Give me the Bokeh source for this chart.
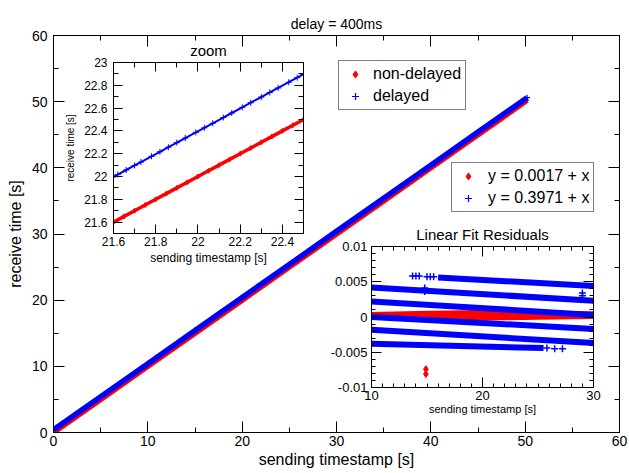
from bokeh.plotting import figure
from bokeh.models import (Range1d, LinearAxis, FixedTicker, CustomJSTickFormatter,
                          Legend, LegendItem)
from bokeh.layouts import column
from bokeh.embed import file_html
from bokeh.resources import INLINE

FONT = "Liberation Sans"
RED = "#ff0000"
BLUE = "#0000ff"

# ---------------- main plot data ----------------
send_main = [0, 5, 10, 15, 20, 25, 30, 35, 40, 45, 50.2]
recv_nondelayed = [0.0, 5.0, 10.0, 15.0, 20.0, 25.0, 30.0, 35.0, 40.0, 45.0, 50.2]
recv_delayed = [0.4, 5.4, 10.4, 15.4, 20.4, 25.4, 30.4, 35.4, 40.4, 45.4, 50.6]
main_ticks = [0, 10, 20, 30, 40, 50, 60]
main_minor = [5, 15, 25, 35, 45, 55]
fit_labels = ["y = 0.0017 + x", "y = 0.3971 + x"]
series_labels = ["non-delayed", "delayed"]

# ---------------- zoom inset data ----------------
zoom_send_red = [21.60, 21.65, 21.70, 21.75, 21.80, 21.85, 21.90, 21.95, 22.00, 22.05,
                 22.10, 22.15, 22.20, 22.25, 22.30, 22.35, 22.40, 22.45, 22.50]
zoom_recv_red = [21.60, 21.65, 21.70, 21.75, 21.80, 21.85, 21.90, 21.95, 22.00, 22.05,
                 22.10, 22.15, 22.20, 22.25, 22.30, 22.35, 22.40, 22.45, 22.50]
zoom_send_blue = [21.60, 21.62, 21.66, 21.70, 21.73, 21.78, 21.82, 21.86, 21.90, 21.94,
                  21.99, 22.03, 22.07, 22.12, 22.16, 22.21, 22.25, 22.30, 22.34, 22.38,
                  22.43, 22.47, 22.50]
zoom_recv_blue = [21.997, 22.017, 22.057, 22.097, 22.127, 22.177, 22.217, 22.257, 22.297,
                  22.337, 22.387, 22.427, 22.467, 22.517, 22.557, 22.607, 22.647, 22.697,
                  22.737, 22.777, 22.827, 22.867, 22.897]
zoom_x_ticks = [21.6, 21.8, 22.0, 22.2, 22.4]
zoom_x_minor = [21.7, 21.9, 22.1, 22.3, 22.5]
zoom_y_ticks = [21.6, 21.8, 22.0, 22.2, 22.4, 22.6, 22.8, 23.0]
zoom_y_minor = [21.5, 21.7, 21.9, 22.1, 22.3, 22.5, 22.7, 22.9]

# ---------------- residual inset data ----------------
band_x0 = [16.0, 10.0, 10.0, 10.0, 10.0, 10.0]
band_y0 = [0.0056, 0.0042, 0.0022, 0.0000, -0.0018, -0.0038]
band_x1 = [30.0, 30.0, 30.0, 30.0, 30.0, 25.5]
band_y1 = [0.0044, 0.0023, 0.0003, -0.0017, -0.0037, -0.0044]
sparse_x = [13.7, 14.0, 14.3, 15.0, 15.3, 15.6, 25.8, 26.5, 27.2, 14.8, 14.8, 29.0, 29.0]
sparse_y = [0.0058, 0.0058, 0.0058, 0.0057, 0.0057, 0.0057, -0.0044, -0.0045, -0.0045,
            0.0036, 0.0041, 0.0034, 0.0030]
red_band_x = [10, 15, 20, 25, 30]
red_band_hi = [0.0007, 0.0009, 0.0010, 0.0009, 0.0008]
red_band_lo = [0.0001, -0.0003, -0.0005, -0.0004, -0.0003]
red_out_x = [14.9, 14.9]
red_out_y = [-0.0074, -0.0081]
res_x_ticks = [10, 20, 30]
res_x_minor = [11, 12, 13, 14, 15, 16, 17, 18, 19, 21, 22, 23, 24, 25, 26, 27, 28, 29]
res_y_ticks = [-0.01, -0.005, 0.0, 0.005, 0.01]
res_y_minor = [-0.009, -0.008, -0.007, -0.006, -0.004, -0.003, -0.002, -0.001,
               0.001, 0.002, 0.003, 0.004, 0.006, 0.007, 0.008, 0.009]

fmt_code = "return String(Number(tick.toFixed(4)));"


def style_axis(ax, ticker, tick_size, label_size, maj, mnr, standoff, label_standoff):
    ax.ticker = ticker
    ax.formatter = CustomJSTickFormatter(code=fmt_code)
    ax.major_label_text_font = FONT
    ax.major_label_text_font_size = tick_size
    ax.major_label_text_color = "black"
    ax.axis_label_text_font = FONT
    ax.axis_label_text_font_size = label_size
    ax.axis_label_text_font_style = "normal"
    ax.axis_label_text_color = "black"
    ax.major_tick_in = maj
    ax.major_tick_out = 0
    ax.minor_tick_in = mnr
    ax.minor_tick_out = 0
    ax.major_label_standoff = standoff
    ax.axis_label_standoff = label_standoff
    ax.axis_line_color = "black"
    ax.major_tick_line_color = "black"
    ax.minor_tick_line_color = "black"


def mirror_axes(fig, xt, yt, maj, mnr):
    for loc, t in (("above", xt), ("right", yt)):
        ax = LinearAxis(ticker=t, major_label_text_font_size="0px", major_label_standoff=0,
                        major_label_text_color=None, axis_label_standoff=0,
                        major_tick_in=maj, major_tick_out=0, minor_tick_in=mnr,
                        minor_tick_out=0, axis_line_color="black",
                        major_tick_line_color="black", minor_tick_line_color="black")
        fig.add_layout(ax, loc)


def style_fig(fig, title_size, standoff):
    fig.xgrid.visible = False
    fig.ygrid.visible = False
    fig.outline_line_color = "black"
    fig.title.text_font = FONT
    fig.title.text_font_size = title_size
    fig.title.text_font_style = "normal"
    fig.title.align = "center"
    fig.title.vertical_align = "top"
    fig.title.standoff = standoff
    fig.title.text_color = "black"


# ================= main figure =================
p = figure(width=629, height=473, x_range=Range1d(0, 60), y_range=Range1d(0, 60),
           output_backend="svg", toolbar_location=None, title="delay = 400ms",
           min_border_left=53, min_border_right=8, min_border_top=35, min_border_bottom=41,
           background_fill_color="white", border_fill_color="white")
style_fig(p, "14px", 4)
mt_x = FixedTicker(ticks=main_ticks, minor_ticks=main_minor)
mt_y = FixedTicker(ticks=main_ticks, minor_ticks=main_minor)
style_axis(p.xaxis[0], mt_x, "14px", "16px", 11, 5, 3, 2)
style_axis(p.yaxis[0], mt_y, "14px", "16px", 11, 5, 6, 5)
p.xaxis.axis_label = "sending timestamp [s]"
p.yaxis.axis_label = "receive time [s]"
mirror_axes(p, mt_x, mt_y, 11, 5)

p.line(send_main, recv_nondelayed, line_width=5.5, color=RED)
r_red = p.scatter(send_main, recv_nondelayed, marker="diamond", size=4, color=RED)
p.line(send_main, recv_delayed, line_width=5.5, color=BLUE)
r_blue = p.scatter(send_main, recv_delayed, marker="cross", size=6, color=BLUE, line_width=1.2)

leg_common = dict(margin=0, padding=4, spacing=4, label_height=18, glyph_height=18,
                  glyph_width=24, label_text_font=FONT, label_text_font_size="16px",
                  label_text_color="black", border_line_color="black", border_line_width=1,
                  background_fill_color="white", background_fill_alpha=1.0)
leg1 = Legend(items=[LegendItem(label=series_labels[0], renderers=[r_red]),
                     LegendItem(label=series_labels[1], renderers=[r_blue])],
              location=(285, 322), label_standoff=6, **leg_common)
leg2 = Legend(items=[LegendItem(label=fit_labels[0], renderers=[r_red]),
                     LegendItem(label=fit_labels[1], renderers=[r_blue])],
              location=(398, 220), label_standoff=8, **leg_common)
p.add_layout(leg1)
p.add_layout(leg2)

# ================= zoom inset =================
z = figure(width=253, height=235, x_range=Range1d(21.6, 22.5), y_range=Range1d(21.5, 23.0),
           output_backend="svg", toolbar_location=None, title="zoom",
           min_border_left=50, min_border_right=6, min_border_top=30, min_border_bottom=34,
           background_fill_color="white", border_fill_color=None)
style_fig(z, "15px", 3)
zt_x = FixedTicker(ticks=zoom_x_ticks, minor_ticks=zoom_x_minor)
zt_y = FixedTicker(ticks=zoom_y_ticks, minor_ticks=zoom_y_minor)
style_axis(z.xaxis[0], zt_x, "12px", "12px", 9, 5, 3, 2)
style_axis(z.yaxis[0], zt_y, "12px", "10px", 9, 5, 6, 5)
z.xaxis.axis_label = "sending timestamp [s]"
z.yaxis.axis_label = "receive time [s]"
mirror_axes(z, zt_x, zt_y, 9, 5)
z.line(zoom_send_red, zoom_recv_red, line_width=3.5, color=RED)
z.scatter(zoom_send_red, zoom_recv_red, marker="diamond", size=5, color=RED)
z.line(zoom_send_blue, zoom_recv_blue, line_width=2, color=BLUE)
z.scatter(zoom_send_blue, zoom_recv_blue, marker="cross", size=6, color=BLUE, line_width=1)
z.styles = {"position": "absolute", "left": "60px", "top": "32px"}

# ================= residual inset =================
r = figure(width=285, height=207, x_range=Range1d(10, 30), y_range=Range1d(-0.01, 0.01),
           output_backend="svg", toolbar_location=None, title="Linear Fit Residuals",
           min_border_left=46, min_border_right=10, min_border_top=34, min_border_bottom=32,
           background_fill_color="white", border_fill_color=None)
style_fig(r, "15px", 4)
rt_x = FixedTicker(ticks=res_x_ticks, minor_ticks=res_x_minor)
rt_y = FixedTicker(ticks=res_y_ticks, minor_ticks=res_y_minor)
style_axis(r.xaxis[0], rt_x, "13px", "11px", 10, 4, 3, 0)
style_axis(r.yaxis[0], rt_y, "13px", "11px", 10, 4, 4, 0)
r.xaxis.axis_label = "sending timestamp [s]"
mirror_axes(r, rt_x, rt_y, 10, 4)
r.varea(x=red_band_x, y1=red_band_lo, y2=red_band_hi, color=RED)
r.scatter(red_out_x, red_out_y, marker="diamond", size=7, color=RED)
r.segment(x0=band_x0, y0=band_y0, x1=band_x1, y1=band_y1, line_width=6, color=BLUE)
r.scatter(sparse_x, sparse_y, marker="cross", size=7, color=BLUE, line_width=1.5)
r.styles = {"position": "absolute", "left": "318px", "top": "212px"}

layout = column(p, z, r)
open("out.html", "w").write(file_html(layout, INLINE))
